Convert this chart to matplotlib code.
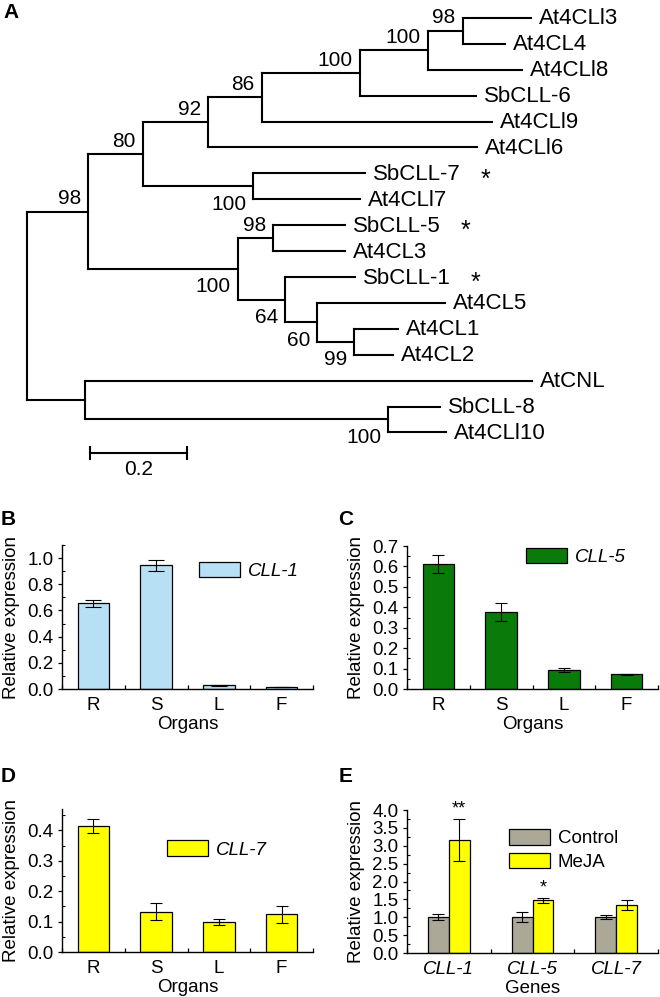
import numpy as np
import matplotlib
matplotlib.use("Agg")
import matplotlib.pyplot as plt
from matplotlib.ticker import MultipleLocator, FormatStrFormatter

plt.rcParams['font.family'] = ['Liberation Sans', 'DejaVu Sans']

# tree (A): newick with bootstrap values as internal names
tree_newick = ("((((((((At4CLl3:0.142,At4CL4:0.087)98:0.072,At4CLl8:0.194)100:0.140,"
               "SbCLL-6:0.239)100:0.202,At4CLl9:0.474)86:0.111,At4CLl6:0.555)92:0.134,"
               "(SbCLL-7:0.231,At4CLl7:0.221)100:0.227)80:0.113,"
               "((SbCLL-5:0.148,At4CL3:0.148)98:0.072,(SbCLL-1:0.144,(At4CL5:0.264,"
               "(At4CL1:0.091,At4CL2:0.080)99:0.076)60:0.066)64:0.097)100:0.309)98:0.126,"
               "(AtCNL:0.922,(SbCLL-8:0.107,At4CLl10:0.118)100:0.625):0.120);")
starred = ["SbCLL-7", "SbCLL-5", "SbCLL-1"]
scale_len = 0.2

# bar panels
organs = ["R", "S", "L", "F"]
cll1_mean = [0.654, 0.945, 0.028, 0.017]
cll1_err = [0.027, 0.04, 0.002, 0.001]
cll5_mean = [0.611, 0.376, 0.095, 0.071]
cll5_err = [0.043, 0.043, 0.01, 0.003]
cll7_mean = [0.413, 0.133, 0.099, 0.124]
cll7_err = [0.023, 0.028, 0.011, 0.028]

genes = ["CLL-1", "CLL-5", "CLL-7"]
control_mean = [1.01, 1.01, 1.01]
control_err = [0.08, 0.13, 0.06]
meja_mean = [3.16, 1.47, 1.34]
meja_err = [0.58, 0.07, 0.13]
meja_sig = ["**", "*", ""]

W, H = 660, 997


def parse_newick(s):
    pos = 0

    def node():
        nonlocal pos
        kids = []
        if s[pos] == "(":
            pos += 1
            kids.append(node())
            while s[pos] == ",":
                pos += 1
                kids.append(node())
            pos += 1
        start = pos
        while s[pos] not in ":,);":
            pos += 1
        name = s[start:pos]
        length = 0.0
        if s[pos] == ":":
            pos += 1
            start = pos
            while s[pos] not in ",);":
                pos += 1
            length = float(s[start:pos])
        return {"name": name, "len": length, "kids": kids}

    return node()


def layout(nd, x0, leaves):
    nd["x"] = x0 + nd["len"]
    if not nd["kids"]:
        nd["y"] = len(leaves)
        leaves.append(nd)
    else:
        for k in nd["kids"]:
            layout(k, nd["x"], leaves)
        nd["y"] = (nd["kids"][0]["y"] + nd["kids"][-1]["y"]) / 2


def draw_tree(ax, nd):
    lw = 1.5
    if not nd["kids"]:
        ax.annotate(nd["name"], (nd["x"], nd["y"]), xytext=(8, -1),
                    textcoords="offset pixels", ha="left", va="center", fontsize=16)
        if nd["name"] in starred:
            ax.annotate("*", (nd["x"], nd["y"]), xytext=(116, -6),
                        textcoords="offset pixels", ha="left", va="center",
                        fontsize=18)
        return
    ax.plot([nd["x"], nd["x"]], [nd["kids"][0]["y"], nd["kids"][-1]["y"]],
            color="black", lw=lw, solid_capstyle="projecting")
    for i, k in enumerate(nd["kids"]):
        ax.plot([nd["x"], k["x"]], [k["y"], k["y"]], color="black", lw=lw,
                solid_capstyle="projecting")
        if k["kids"] and k["name"]:
            dy = 13 if i == 0 else -18
            ax.annotate(k["name"], (k["x"], k["y"]), xytext=(-7, dy),
                        textcoords="offset pixels", ha="right", va="center",
                        fontsize=15)
        draw_tree(ax, k)


fig = plt.figure(figsize=(W / 100, H / 100), dpi=100)

# ---- A: tree ----
tax = fig.add_axes([0, 1 - 480 / H, 1, 480 / H])
root = parse_newick(tree_newick)
leaves = []
layout(root, 0.0, leaves)
draw_tree(tax, root)
tax.set_xlim(-27 / 485, 633 / 485)
tax.set_ylim((480 - 18) / 25.9, -18 / 25.9)
tax.axis("off")

sb_x, sb_y = 0.13, 16.8
tax.plot([sb_x, sb_x + scale_len], [sb_y, sb_y], color="black", lw=1.5)
for xx in (sb_x, sb_x + scale_len):
    tax.plot([xx, xx], [sb_y - 0.22, sb_y + 0.22], color="black", lw=1.5)
tax.text(sb_x + scale_len / 2, sb_y + 0.65, f"{scale_len}", ha="center",
         va="center", fontsize=15)


def px_axes(left, right, top, bottom):
    return fig.add_axes([left / W, 1 - bottom / H, (right - left) / W,
                         (bottom - top) / H])


def style_axes(ax, ymax, major, minor, fmt):
    for sp in ("top", "right"):
        ax.spines[sp].set_visible(False)
    for sp in ("left", "bottom"):
        ax.spines[sp].set_linewidth(1.0)
    ax.set_ylim(0, ymax)
    ax.yaxis.set_major_locator(MultipleLocator(major))
    ax.yaxis.set_minor_locator(MultipleLocator(minor))
    ax.yaxis.set_major_formatter(FormatStrFormatter(fmt))
    ax.tick_params(axis="y", which="major", direction="out", length=3,
                   width=0.9, labelsize=13.5, pad=3)
    ax.tick_params(axis="y", which="minor", direction="in", length=2, width=0.8)
    ax.tick_params(axis="x", which="major", length=0, labelsize=13.5, pad=6)
    ax.tick_params(axis="x", which="minor", direction="in", length=3, width=0.9)
    ax.set_ylabel("Relative expression", fontsize=13.5)
    ax.yaxis.set_label_coords(-0.168, 0.5)


def organ_panel(ax, means, errs, color, label, ymax, major, minor, cap, anchor):
    x = np.arange(len(organs))
    ax.bar(x, means, width=0.5, color=color, edgecolor="black", linewidth=0.9,
           label=label, yerr=errs,
           error_kw=dict(ecolor="black", elinewidth=0.8, capsize=cap, capthick=0.8))
    ax.set_xlim(-0.5, len(organs) - 0.5)
    ax.set_xticks(x)
    ax.set_xticklabels(organs)
    ax.set_xticks(np.arange(len(organs) + 1) - 0.5, minor=True)
    style_axes(ax, ymax, major, minor, "%.1f")
    ax.set_xlabel("Organs", fontsize=13.5, labelpad=1)
    ax.legend(loc="center left", bbox_to_anchor=anchor, frameon=False,
              prop={"style": "italic", "size": 13.5}, handlelength=2.2,
              handleheight=0.9, handletextpad=0.4, borderpad=0, borderaxespad=0)


axB = px_axes(62, 313, 545, 689)
organ_panel(axB, cll1_mean, cll1_err, "#b7e0f5", "CLL-1", 1.1, 0.2, 0.1, 5.5,
            (0.546, 0.82))

axC = px_axes(407, 658, 546, 689)
organ_panel(axC, cll5_mean, cll5_err, "#0a7a0a", "CLL-5", 0.7, 0.1, 0.05, 4,
            (0.474, 0.923))

axD = px_axes(62, 313, 809, 952)
organ_panel(axD, cll7_mean, cll7_err, "#ffff00", "CLL-7", 0.47, 0.1, 0.05, 4.3,
            (0.418, 0.717))

# ---- E ----
axE = px_axes(407, 658, 810, 953)
xg = np.arange(len(genes))
bw = 0.25
axE.bar(xg - bw / 2, control_mean, width=bw, color="#aca898", edgecolor="black",
        linewidth=0.9, label="Control", yerr=control_err,
        error_kw=dict(ecolor="black", elinewidth=0.8, capsize=4, capthick=0.8))
axE.bar(xg + bw / 2, meja_mean, width=bw, color="#ffff00", edgecolor="black",
        linewidth=0.9, label="MeJA", yerr=meja_err,
        error_kw=dict(ecolor="black", elinewidth=0.8, capsize=4, capthick=0.8))
for xi, m, e, s in zip(xg, meja_mean, meja_err, meja_sig):
    if s:
        axE.annotate(s, (xi + bw / 2, m + e), xytext=(0, 1),
                     textcoords="offset points", ha="center", va="bottom",
                     fontsize=13)
axE.set_xlim(-0.49, len(genes) - 0.5)
axE.set_xticks(xg)
axE.set_xticklabels(genes, style="italic")
axE.set_xticks(np.arange(len(genes) + 1) - 0.5, minor=True)
style_axes(axE, 4.0, 0.5, 0.25, "%.1f")
axE.set_xlabel("Genes", fontsize=13.5, labelpad=1)
axE.legend(loc="center left", bbox_to_anchor=(0.406, 0.72), frameon=False,
           prop={"size": 13.5}, handlelength=2.2, handleheight=0.9,
           handletextpad=0.4, borderpad=0, borderaxespad=0, labelspacing=0.3)

# panel letters
for letter, (px, py) in {"A": (3, 12), "B": (1, 519), "C": (338, 519),
                         "D": (1, 777), "E": (339, 777)}.items():
    fig.text(px / W, 1 - py / H, letter, fontsize=15, fontweight="bold",
             ha="left", va="center")

fig.savefig("out.png", dpi=100)
